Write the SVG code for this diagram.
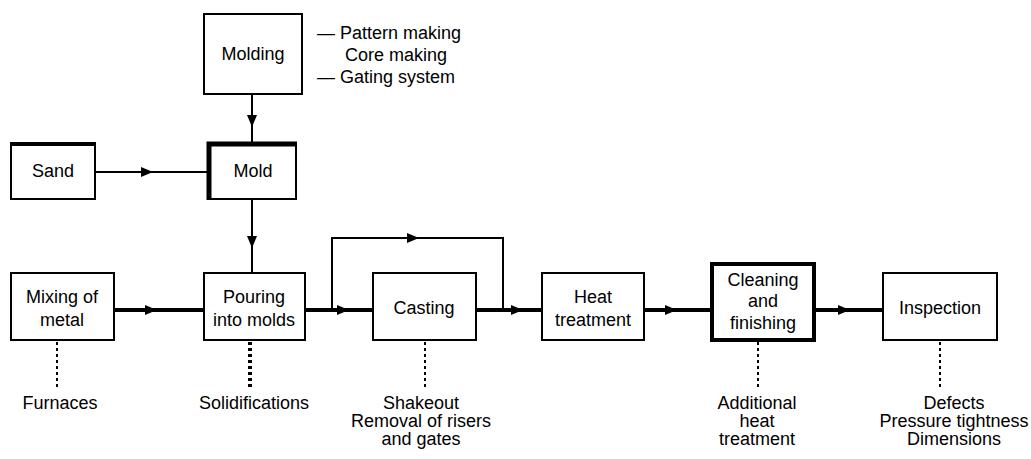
<svg xmlns="http://www.w3.org/2000/svg" xmlns:xlink="http://www.w3.org/1999/xlink" width="1031" height="459" viewBox="0 0 1031 459">
<style>
.box{fill:#fff;stroke:#000;stroke-width:2}
.thick{stroke-width:4}
.t{font-family:"Liberation Sans",Arial,sans-serif;font-size:18px;fill:#000;text-anchor:middle}
.ts{font-family:"Liberation Sans",Arial,sans-serif;font-size:18px;fill:#000}
.flow{fill:none;stroke:#000;stroke-width:4}
.thin{fill:none;stroke:#000;stroke-width:2}
.dot{fill:none;stroke:#000;stroke-width:2;stroke-dasharray:3 3}
.dotb{fill:none;stroke:#000;stroke-width:4;stroke-dasharray:3 3}
</style>
<defs>
<path id="ah" d="M-6,-5 L6,0 L-6,5 Z" fill="#000"/>
</defs>
<rect width="1031" height="459" fill="#fff"/>
<g id="connectors">
<path class="thin" d="M252,95 V142"/>
<path class="thin" d="M95,172 H208"/>
<path class="thin" d="M252,199 V273"/>
<path class="flow" d="M114,310 H204"/>
<path class="flow" d="M305,310 H373"/>
<path class="thin" d="M332,310 V238 H503 V310"/>
<path class="flow" d="M476,310 H542"/>
<path class="flow" d="M644,310 H711"/>
<path class="flow" d="M815,310 H883"/>
<use xlink:href="#ah" transform="translate(252,121) rotate(90)"/>
<use xlink:href="#ah" transform="translate(147,172)"/>
<use xlink:href="#ah" transform="translate(252,242) rotate(90)"/>
<use xlink:href="#ah" transform="translate(151,310)"/>
<use xlink:href="#ah" transform="translate(343,310)"/>
<use xlink:href="#ah" transform="translate(413,238)"/>
<use xlink:href="#ah" transform="translate(517,310)"/>
<use xlink:href="#ah" transform="translate(671,310)"/>
<use xlink:href="#ah" transform="translate(844,310)"/>
<path class="dot" d="M57,342 V387"/>
<path class="dotb" d="M250,342 V387"/>
<path class="dot" d="M425,342 V387"/>
<path class="dot" d="M758,342 V387"/>
<path class="dot" d="M940,342 V387"/>
</g>
<g id="molding">
<rect class="box" x="204" y="14" width="98" height="80"/>
<text class="t" x="253" y="60">Molding</text>
<text class="ts" x="317" y="39">— Pattern making</text>
<text class="ts" x="345" y="61">Core making</text>
<text class="ts" x="317" y="83">— Gating system</text>
</g>
<g id="sand">
<rect class="box" x="11" y="143" width="84" height="56"/>
<path d="M10,144 H96" stroke="#000" stroke-width="4"/>
<text class="t" x="53" y="177">Sand</text>
</g>
<g id="mold">
<rect class="box" x="209" y="143" width="87" height="56"/>
<path d="M209,200 V144 H297" fill="none" stroke="#000" stroke-width="5"/>
<text class="t" x="253" y="177">Mold</text>
</g>
<g id="mixing">
<rect class="box" x="11" y="273" width="103" height="67"/>
<text class="t" x="62" y="303">Mixing of</text>
<text class="t" x="62" y="326">metal</text>
</g>
<g id="pouring">
<rect class="box" x="204" y="273" width="101" height="67"/>
<text class="t" x="254" y="303">Pouring</text>
<text class="t" x="254" y="326">into molds</text>
</g>
<g id="casting">
<rect class="box" x="373" y="273" width="103" height="67"/>
<text class="t" x="424" y="314">Casting</text>
</g>
<g id="heat">
<rect class="box" x="542" y="273" width="102" height="67"/>
<text class="t" x="593" y="303">Heat</text>
<text class="t" x="593" y="326">treatment</text>
</g>
<g id="cleaning">
<rect class="box thick" x="712" y="264" width="102" height="76"/>
<text class="t" x="763" y="286">Cleaning</text>
<text class="t" x="763" y="307">and</text>
<text class="t" x="763" y="329">finishing</text>
</g>
<g id="inspection">
<rect class="box" x="883" y="273" width="114" height="67"/>
<text class="t" x="940" y="314">Inspection</text>
</g>
<g id="labels">
<text class="t" x="60" y="409">Furnaces</text>
<text class="t" x="254" y="409">Solidifications</text>
<text class="t" x="421" y="409">Shakeout</text>
<text class="t" x="421" y="427">Removal of risers</text>
<text class="t" x="421" y="445">and gates</text>
<text class="t" x="757" y="409">Additional</text>
<text class="t" x="757" y="427">heat</text>
<text class="t" x="757" y="445">treatment</text>
<text class="t" x="954" y="409">Defects</text>
<text class="t" x="954" y="427">Pressure tightness</text>
<text class="t" x="954" y="445">Dimensions</text>
</g>
</svg>
